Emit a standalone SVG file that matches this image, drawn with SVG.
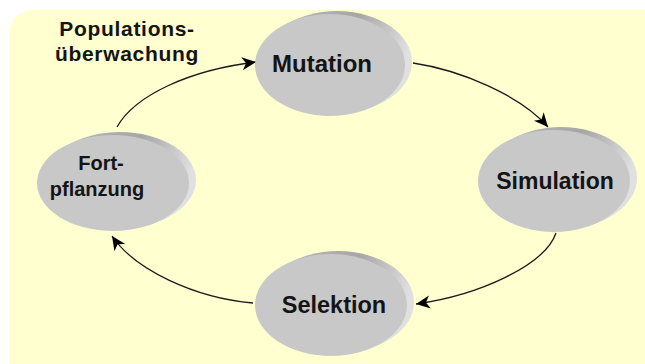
<svg xmlns="http://www.w3.org/2000/svg" width="645" height="364" viewBox="0 0 645 364">
  <defs>
    <linearGradient id="rim" x1="0" y1="0" x2="1" y2="0.3">
      <stop offset="0" stop-color="#bdbdbd"/>
      <stop offset="0.6" stop-color="#a6a6a6"/>
      <stop offset="1" stop-color="#e0e0e0"/>
    </linearGradient>
    <marker id="arr" viewBox="-15 -7 16 14" refX="0" refY="0" markerWidth="16" markerHeight="14" markerUnits="userSpaceOnUse" orient="auto">
      <path d="M0,0 L-14,-6.5 L-10,0 L-14,6.5 Z" fill="#000"/>
    </marker>
  </defs>
  <style>
    .rim { fill: url(#rim); }
    .face { fill: #c8c8c8; }
    .lbl { font-family: "Liberation Sans", Arial, sans-serif; font-weight: bold; fill: #141414; text-anchor: middle; }
    .conn { fill: none; stroke: #1a1a1a; stroke-width: 1.3; marker-end: url(#arr); }
  </style>
  <rect x="9" y="10" width="660" height="380" rx="24" fill="#ffffcf"/>

  <g id="title">
    <text class="lbl" x="127" y="36" font-size="21" letter-spacing="0.7">Populations-</text>
    <text class="lbl" x="127" y="61" font-size="21" letter-spacing="0.7">überwachung</text>
  </g>

  <g id="connectors">
    <path class="conn" d="M117,127 C135,95 190,70 256,62"/>
    <path class="conn" d="M413,63 C460,70 520,95 548,127"/>
    <path class="conn" d="M556,233 C545,265 480,295 416,304"/>
    <path class="conn" d="M253,303 C195,298 135,270 112,236"/>
  </g>

  <g id="mutation">
    <ellipse class="rim" cx="337" cy="62" rx="75" ry="51"/>
    <ellipse class="face" cx="330" cy="65" rx="75" ry="51"/>
    <text class="lbl" x="322" y="72" font-size="24">Mutation</text>
  </g>

  <g id="simulation">
    <ellipse class="rim" cx="561" cy="178" rx="76" ry="51"/>
    <ellipse class="face" cx="554" cy="181" rx="76" ry="51"/>
    <text class="lbl" x="555" y="189" font-size="23">Simulation</text>
  </g>

  <g id="selektion">
    <ellipse class="rim" cx="338" cy="302" rx="76" ry="51"/>
    <ellipse class="face" cx="331" cy="305" rx="76" ry="51"/>
    <text class="lbl" x="334" y="313" font-size="23.5">Selektion</text>
  </g>

  <g id="fortpflanzung">
    <ellipse class="rim" cx="120" cy="180" rx="76" ry="48"/>
    <ellipse class="face" cx="113" cy="183" rx="76" ry="48"/>
    <text class="lbl" x="101" y="170" font-size="20">Fort-</text>
    <text class="lbl" x="97" y="196" font-size="20">pflanzung</text>
  </g>
</svg>
